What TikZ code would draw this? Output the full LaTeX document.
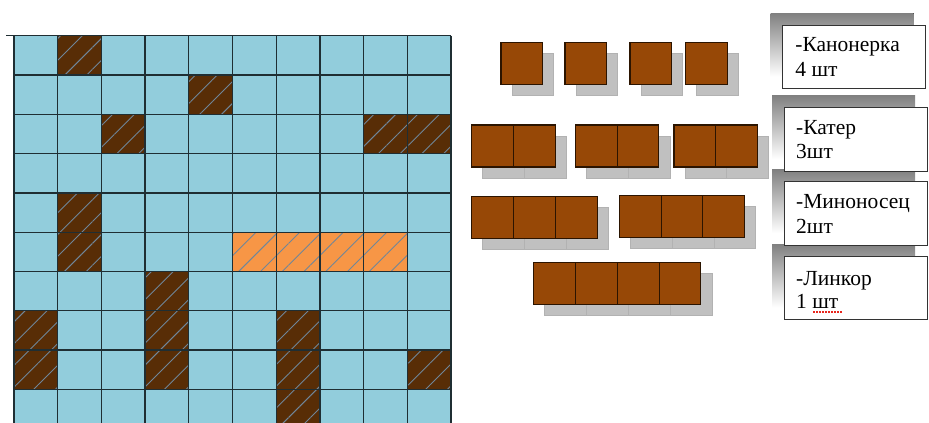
\documentclass[tikz,border=0pt]{standalone}
\usepackage{fontspec}
\setmainfont{Liberation Serif}
\usetikzlibrary{patterns.meta}
\definecolor{sea}{HTML}{92CDDC}
\definecolor{hit}{HTML}{582D06}
\definecolor{fire}{HTML}{F79646}
\definecolor{hull}{HTML}{974806}
\definecolor{hullline}{HTML}{2B1400}
\definecolor{shade}{HTML}{C0C0C0}
\definecolor{shadeline}{HTML}{B2B2B2}
\definecolor{hatch}{HTML}{6F8699}
\definecolor{gridc}{HTML}{1F2E33}
\definecolor{boxline}{HTML}{333333}
\definecolor{spell}{HTML}{E8281E}
\begin{document}
\begin{tikzpicture}[x=1pt,y=-1pt,
    font=\fontsize{21.5}{25}\selectfont,
    gridline/.style={draw=gridc,line width=1.3pt},
    hatched/.style={postaction={pattern={Lines[angle=45,distance=15.4pt,line width=0.9pt]},pattern color=hatch}},
    hullcell/.style={fill=hull,draw=hullline,line width=1.1pt},
    shadecell/.style={fill=shade,draw=shadeline,line width=0.8pt},
    tagbox/.style={draw=boxline,line width=1pt,fill=white,anchor=north west,
      minimum width=143pt,minimum height=63.5pt,inner sep=0pt,outer sep=0pt},
    tagtext/.style={anchor=base west,inner sep=0pt}]
  \fill[white] (0,0) rectangle (929,423);
  \useasboundingbox (0,0) rectangle (929,423);
  % sea grid
  \begin{scope}[shift={(14,35.7)},x=43.7pt,y=-39.3pt]
    \fill[sea] (0,0) rectangle (10,10);
    \foreach \c/\r in {1/0,4/1,2/2,8/2,9/2,1/4,1/5,3/6,0/7,3/7,6/7,0/8,3/8,6/8,9/8,6/9}
      \fill[hit,hatched] (\c,\r) rectangle ++(1,1);
    \foreach \c in {5,...,8}
      \fill[fire,hatched] (\c,5) rectangle ++(1,1);
    \foreach \i in {0,...,10}{
      \draw[gridline] (\i,0) -- (\i,10);
      \draw[gridline] (0,\i) -- (10,\i);
    }
    \draw[gridline] (-0.18,0) -- (0,0);
  \end{scope}
  % fleet
  \foreach \sx/\sy/\sn in {501/42.3/1,565/42.3/1,630/42.3/1,685.7/42.3/1,
      471.7/125/2,575.3/125/2,674/125/2,471.7/196.7/3,619.3/195.7/3,533.7/262.7/4}{
    \foreach \k in {1,...,\sn}
      \draw[shadecell] ({\sx+(\k-1)*41.8+11},{\sy+11}) rectangle ++(41.8,42);
    \foreach \k in {1,...,\sn}
      \draw[hullcell] ({\sx+(\k-1)*41.8},\sy) rectangle ++(41.8,42);
  }
  % legend
  \foreach \tx/\ty in {770.5/13,772/95.5,772/169.5,772/244}
    \fill[shade] (\tx,\ty) rectangle ++(143,63.5);
  \node[tagbox] (kanbox) at (782.7,25) {};
  \node[tagtext] (kanname) at ([xshift=12.5pt,yshift=-26.5pt]kanbox.north west) {-Канонерка};
  \node[tagtext] (kancount) at ([xshift=12.5pt,yshift=-51.5pt]kanbox.north west) {4 шт};
  \node[tagbox] (katbox) at (784,107.5) {};
  \node[tagtext] (katname) at ([xshift=12pt,yshift=-26.5pt]katbox.north west) {-Катер};
  \node[tagtext] (katcount) at ([xshift=12pt,yshift=-51pt]katbox.north west) {3шт};
  \node[tagbox] (minbox) at (784,181.5) {};
  \node[tagtext] (minname) at ([xshift=12pt,yshift=-26.8pt]minbox.north west) {-Миноносец};
  \node[tagtext] (mincount) at ([xshift=12pt,yshift=-51.8pt]minbox.north west) {2шт};
  \node[tagbox] (linbox) at (784,256) {};
  \node[tagtext] (linname) at ([xshift=12pt,yshift=-29pt]linbox.north west) {-Линкор};
  \node[tagtext] (lincount) at ([xshift=12pt,yshift=-52pt]linbox.north west) {1 шт};
  \draw[spell,line width=1.1pt,dash pattern=on 1.6pt off 1.4pt]
    ([xshift=17pt,yshift=-4pt]lincount.base west) -- ++(29,0);
\end{tikzpicture}
\end{document}
